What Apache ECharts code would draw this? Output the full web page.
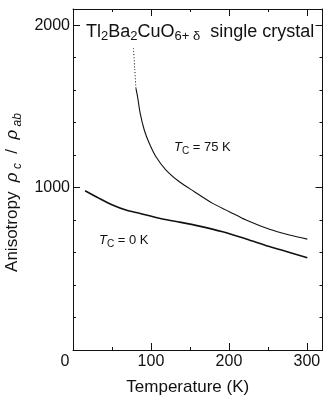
<!DOCTYPE html>
<html>
<head>
<meta charset="utf-8">
<script src="https://cdn.jsdelivr.net/npm/echarts@6/dist/echarts.min.js"></script>
<style>
html,body{margin:0;padding:0;background:#fff;}
#c{width:324px;height:396px;}
</style>
</head>
<body>
<div id="c"></div>
<script>
// ---- data ----
const tempTc0 = [15.5, 33.5, 50.6, 67.9, 85, 110.7, 134.2, 162, 192, 222, 252, 277.8, 300.5];
const anisoTc0 = [981, 934, 893, 862, 842, 811, 790, 763, 728, 684, 637, 601, 568];

const tempTc75Dotted = [77.6, 79.2, 80.7];
const anisoTc75Dotted = [1858, 1730, 1611];

const tempTc75 = [80.7, 82.8, 86.2, 91.4, 97.8, 106.4, 119.3, 136.4, 155.7, 179.2, 200.6, 222, 252, 277.8, 300.5];
const anisoTc75 = [1611, 1560, 1457, 1355, 1273, 1190, 1108, 1036, 975, 903, 852, 800, 743, 708, 683];

const xTickLabels = [0, 100, 200, 300];
const yTickLabels = [1000, 2000];

const FONT = "'Liberation Sans', Arial, sans-serif";
const INK = '#111';

function pairs(xs, ys) { return xs.map((x, i) => [x, ys[i]]); }

const chart = echarts.init(document.getElementById('c'), null, {renderer: 'canvas'});

function xAx(pos, interval, len, showLine, labels) {
  return {
    type: 'value', position: pos, min: 0, max: 320, interval: interval,
    axisLine: {show: showLine, onZero: false, lineStyle: {color: INK, width: 1}},
    axisTick: {show: true, inside: true, length: len, lineStyle: {color: INK, width: 1}},
    splitLine: {show: false},
    axisLabel: labels ? {
      show: true, margin: 4, fontSize: 16, color: INK, fontFamily: FONT,
      showMaxLabel: false, hideOverlap: false,
      formatter: v => xTickLabels.indexOf(v) >= 0 ? (v === 0 ? '{z|0}' : String(v)) : '',
      rich: {z: {fontSize: 16, color: INK, fontFamily: FONT, padding: [0, 16, 0, 0]}}
    } : {show: false},
    name: labels ? 'Temperature (K)' : '',
    nameLocation: 'middle', nameGap: 29,
    nameTextStyle: {fontSize: 17, color: INK, fontFamily: FONT, padding: [0, 20, 0, 0]}
  };
}
function yAx(pos, interval, len, showLine, labels) {
  return {
    type: 'value', position: pos, min: 0, max: 2100, interval: interval,
    axisLine: {show: showLine, onZero: false, lineStyle: {color: INK, width: 1}},
    axisTick: {show: true, inside: true, length: len, lineStyle: {color: INK, width: 1}},
    splitLine: {show: false},
    axisLabel: labels ? {
      show: true, margin: 3, fontSize: 16, color: INK, fontFamily: FONT,
      showMaxLabel: false, hideOverlap: false,
      formatter: v => yTickLabels.indexOf(v) >= 0 ? String(v) : ''
    } : {show: false},
    name: labels ? '{n|Anisotropy  }{i|ρ}{sc| c}{n|  /  }{i|ρ}{sa| ab}' : '',
    nameLocation: 'middle', nameGap: 32, nameRotate: 90,
    nameTextStyle: {
      fontSize: 17, color: INK, fontFamily: FONT, padding: [0, 26, 0, 0],
      rich: {
        n: {fontSize: 17, color: INK, fontFamily: FONT, lineHeight: 22},
        i: {fontSize: 17, color: INK, fontFamily: FONT, fontStyle: 'italic', lineHeight: 22},
        sc: {fontSize: 12, color: INK, fontFamily: FONT, fontStyle: 'italic', verticalAlign: 'bottom', lineHeight: 12},
        sa: {fontSize: 12, color: INK, fontFamily: FONT, fontStyle: 'italic', verticalAlign: 'bottom', lineHeight: 12}
      }
    }
  };
}

const sub = {fontSize: 13, fontFamily: FONT, fill: INK, verticalAlign: 'bottom', lineHeight: 12};

const option = {
  backgroundColor: '#fff',
  animation: false,
  grid: {left: 73, right: 1.5, top: 9, bottom: 46, containLabel: false, outerBoundsMode: 'none'},
  xAxis: [
    xAx('bottom', 50, 3, true, true),
    xAx('bottom', 100, 7, false, false),
    xAx('top', 50, 3, true, false),
    xAx('top', 100, 7, false, false)
  ],
  yAxis: [
    yAx('left', 200, 3, true, true),
    yAx('left', 1000, 7, false, false),
    yAx('right', 200, 3, true, false),
    yAx('right', 1000, 7, false, false)
  ],
  series: [
    {
      type: 'line', xAxisIndex: 0, yAxisIndex: 0, data: pairs(tempTc0, anisoTc0),
      showSymbol: false, smooth: 0.3, lineStyle: {color: INK, width: 1.6}
    },
    {
      type: 'line', xAxisIndex: 0, yAxisIndex: 0, data: pairs(tempTc75Dotted, anisoTc75Dotted),
      showSymbol: false, smooth: 0.3, lineStyle: {color: INK, width: 1, type: [1, 2]}
    },
    {
      type: 'line', xAxisIndex: 0, yAxisIndex: 0, data: pairs(tempTc75, anisoTc75),
      showSymbol: false, smooth: 0.3, lineStyle: {color: INK, width: 1.1}
    }
  ],
  graphic: [
    {
      type: 'text', left: 86, top: 23,
      style: {
        text: '{n|Tl}{s|2}{n|Ba}{s|2}{n|CuO}{s|6+ δ}{n|  single crystal}',
        rich: {
          n: {fontSize: 18, fontFamily: FONT, fill: INK, lineHeight: 22},
          s: sub
        }
      }
    },
    {
      type: 'text', left: 174, top: 141,
      style: {
        text: '{i|T}{s|C}{n| = 75 K}',
        rich: {
          i: {fontSize: 13, fontFamily: FONT, fill: INK, fontStyle: 'italic', lineHeight: 17},
          n: {fontSize: 13, fontFamily: FONT, fill: INK, lineHeight: 17},
          s: {fontSize: 10, fontFamily: FONT, fill: INK, verticalAlign: 'bottom', lineHeight: 10}
        }
      }
    },
    {
      type: 'text', left: 99, top: 234,
      style: {
        text: '{i|T}{s|C}{n| = 0 K}',
        rich: {
          i: {fontSize: 13, fontFamily: FONT, fill: INK, fontStyle: 'italic', lineHeight: 17},
          n: {fontSize: 13, fontFamily: FONT, fill: INK, lineHeight: 17},
          s: {fontSize: 10, fontFamily: FONT, fill: INK, verticalAlign: 'bottom', lineHeight: 10}
        }
      }
    }
  ]
};
chart.setOption(option);
</script>
</body>
</html>
